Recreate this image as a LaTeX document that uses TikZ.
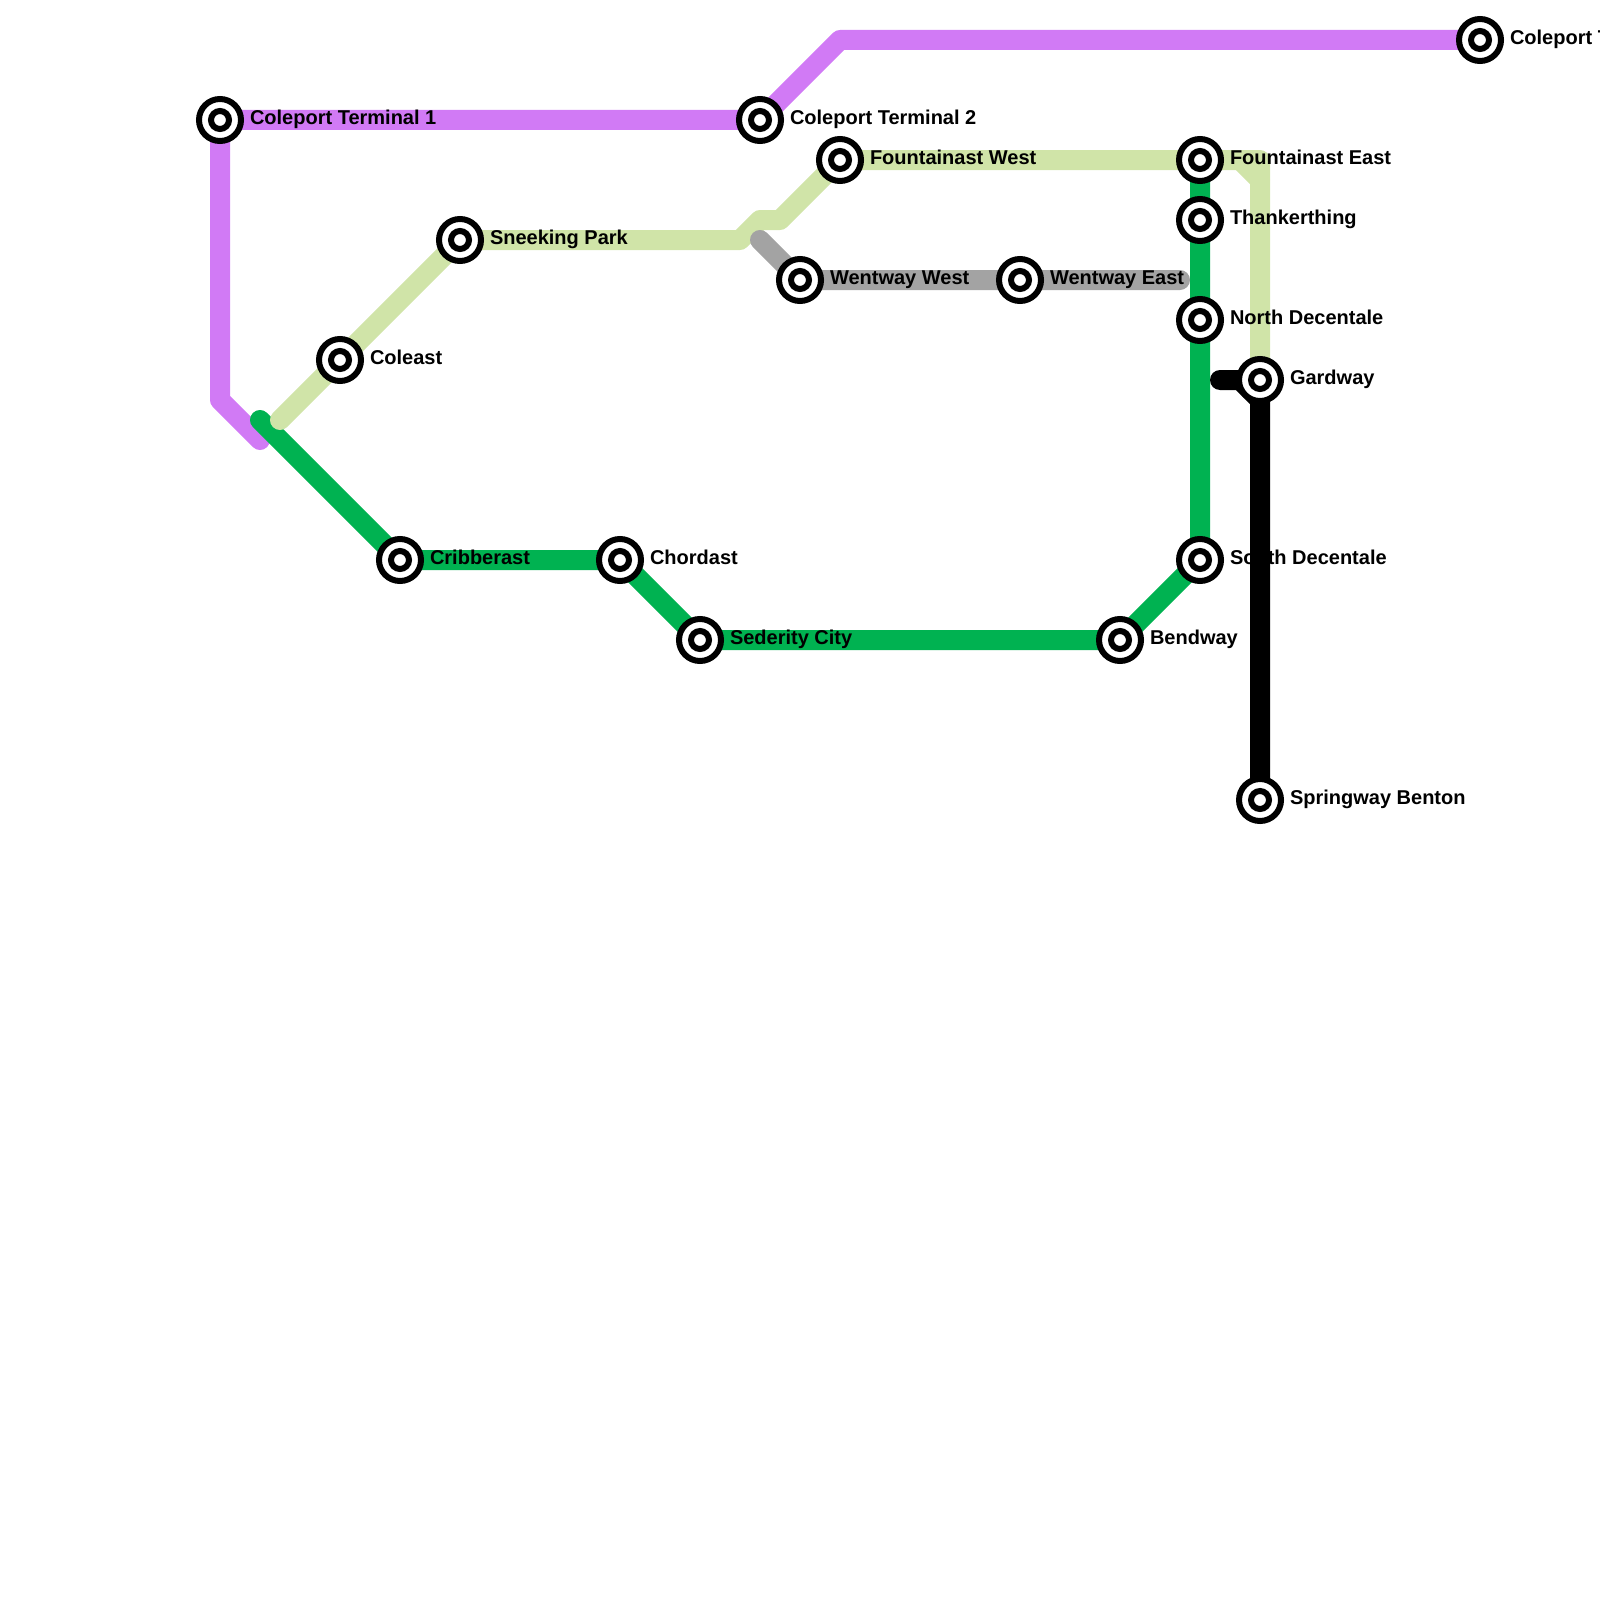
\documentclass[tikz,border=0pt]{standalone}
\usepackage{fontspec}
\setmainfont{Liberation Sans}
\pgfdeclarelayer{linelayer}
\pgfdeclarelayer{labellayer}
\pgfdeclarelayer{blacklayer}
\pgfsetlayers{linelayer,labellayer,blacklayer,main}
\definecolor{cPurple}{HTML}{D17AF5}
\definecolor{cLight}{HTML}{D0E4A8}
\definecolor{cGreen}{HTML}{00B251}
\definecolor{cGrey}{HTML}{A3A3A3}
\tikzset{
  metro/.style={line width=10pt,line cap=round,line join=round},
  station/.style={circle,draw=black,fill=white,line width=3pt,minimum size=21pt,inner sep=0pt,outer sep=0pt,
    path picture={\draw[black,line width=3pt] (path picture bounding box.center) circle (4.5pt);}},
  lbl/.style={anchor=base west,inner sep=0pt,outer sep=0pt,font=\bfseries\fontsize{10pt}{12pt}\selectfont,text=black}
}
\begin{document}
\begin{tikzpicture}[x=0.5pt,y=-0.5pt]
\useasboundingbox (0,0) rectangle (1600,1600);
\clip (0,0) rectangle (1600,1600);
% stations
\node[station] (t1) at (220,120) {};
\node[station] (t2) at (760,120) {};
\node[station] (t3) at (1480,40) {};
\node[station] (coleast) at (340,360) {};
\node[station] (sneek) at (460,240) {};
\node[station] (fw) at (840,160) {};
\node[station] (fe) at (1200,160) {};
\node[station] (thank) at (1200,220) {};
\node[station] (nd) at (1200,320) {};
\node[station] (sd) at (1200,560) {};
\node[station] (bend) at (1120,640) {};
\node[station] (sed) at (700,640) {};
\node[station] (chord) at (620,560) {};
\node[station] (crib) at (400,560) {};
\node[station] (ww) at (800,280) {};
\node[station] (we) at (1020,280) {};
\node[station] (gard) at (1260,380) {};
\node[station] (spring) at (1260,800) {};
% free ends and bends
\coordinate (pA) at (260,440);
\coordinate (pB) at (220,400);
\coordinate (pC) at (840,40);
\coordinate (lA) at (280,420);
\coordinate (lB) at (740,240);
\coordinate (lC) at (760,220);
\coordinate (lD) at (780,220);
\coordinate (lE) at (1260,160);
\coordinate (lF) at (1240,160);
\coordinate (lG) at (1260,180);
\coordinate (gA) at (260,420);
\coordinate (yA) at (760,240);
\coordinate (yB) at (1180,280);
\coordinate (kA) at (1220,380);
\coordinate (kB) at (1240,380);
\coordinate (kC) at (1260,400);
\begin{pgfonlayer}{linelayer}
\draw[metro,cPurple] (pA) -- (pB) -- (t1.center) -- (t2.center) -- (pC) -- (t3.center);
\draw[metro,cGreen] (gA) -- (crib.center) -- (chord.center) -- (sed.center) -- (bend.center) -- (sd.center) -- (nd.center) -- (thank.center) -- (fe.center);
\draw[metro,cLight] (lA) -- (coleast.center) -- (sneek.center) -- (lB) -- (lC) -- (lD) -- (fw.center) -- (fe.center) -- (lE) -- (gard.center);
\draw[metro,cLight] (lF) -- (lG);
\draw[metro,cGrey] (yA) -- (ww.center) -- (we.center) -- (yB);
\end{pgfonlayer}
\begin{pgfonlayer}{labellayer}
\node[lbl] (lt1) at (250,124.5) {Coleport Terminal 1};
\node[lbl] (lt2) at (790,124.5) {Coleport Terminal 2};
\node[lbl] (lt3) at (1510,44.5) {Coleport Terminal 3};
\node[lbl] (lcoleast) at (370,364.5) {Coleast};
\node[lbl] (lsneek) at (490,244.5) {Sneeking Park};
\node[lbl] (lfw) at (870,164.5) {Fountainast West};
\node[lbl] (lfe) at (1230,164.5) {Fountainast East};
\node[lbl] (lthank) at (1230,224.5) {Thankerthing};
\node[lbl] (lnd) at (1230,324.5) {North Decentale};
\node[lbl] (lsd) at (1230,564.5) {South Decentale};
\node[lbl] (lbend) at (1150,644.5) {Bendway};
\node[lbl] (lsed) at (730,644.5) {Sederity City};
\node[lbl] (lchord) at (650,564.5) {Chordast};
\node[lbl] (lcrib) at (430,564.5) {Cribberast};
\node[lbl] (lww) at (830,284.5) {Wentway West};
\node[lbl] (lwe) at (1050,284.5) {Wentway East};
\node[lbl] (lgard) at (1290,384.5) {Gardway};
\node[lbl] (lspring) at (1290,804.5) {Springway Benton};
\end{pgfonlayer}
\begin{pgfonlayer}{blacklayer}
\draw[metro,black] (kA) -- (kB) -- (kC) -- (spring.center);
\end{pgfonlayer}
\end{tikzpicture}
\end{document}
